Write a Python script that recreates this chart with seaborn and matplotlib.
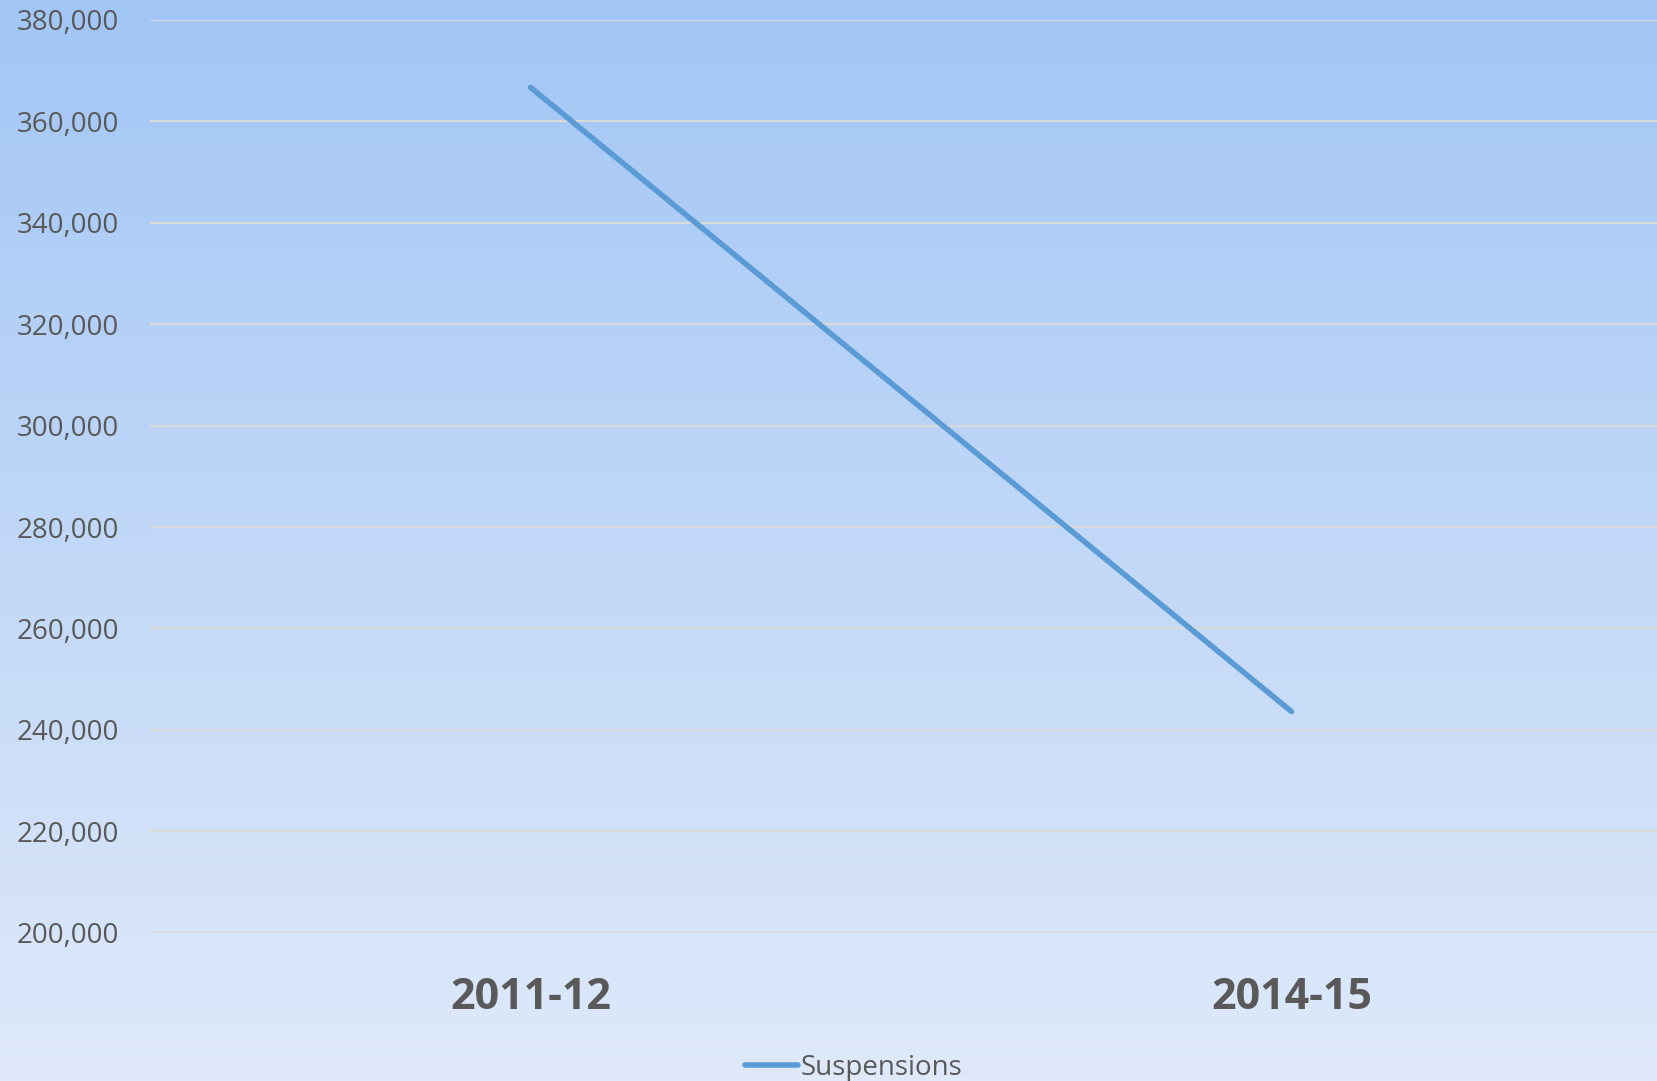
import numpy as np
import pandas as pd
import matplotlib.pyplot as plt
import seaborn as sns
from matplotlib.colors import LinearSegmentedColormap
from matplotlib.ticker import FuncFormatter

# Data
years = ["2011-12", "2014-15"]
suspensions = [366700, 243600]
series_name = "Suspensions"

df = pd.DataFrame({"Year": years, "Count": suspensions})

sns.set_style("white")
plt.rcParams["font.family"] = ["Open Sans", "DejaVu Sans"]

fig = plt.figure(figsize=(16.58, 10.81), dpi=100)

# gradient background over the whole figure
bg = fig.add_axes([0, 0, 1, 1], zorder=0)
cmap = LinearSegmentedColormap.from_list("bg", ["#a2c6f5", "#dfe9fa"])
bg.imshow(np.linspace(0, 1, 256).reshape(-1, 1), aspect="auto", cmap=cmap,
          extent=[0, 1, 0, 1], origin="upper")
bg.axis("off")

ax = fig.add_axes([0.0905, 0.1372, 0.918, 0.8443], zorder=1)
ax.patch.set_alpha(0)

sns.lineplot(data=df, x="Year", y="Count", ax=ax, color="#5b9bd5",
             linewidth=4.0, solid_capstyle="round", label=series_name)

ax.set_ylim(200000, 380000)
ax.set_yticks(range(200000, 380001, 20000))
ax.yaxis.set_major_formatter(FuncFormatter(lambda v, p: f"{int(v):,}"))
ax.set_xlim(-0.5, 1.5)
ax.grid(axis="y", color="#d9d9d9", linewidth=1.5)
ax.set_axisbelow(True)
for s in ax.spines.values():
    s.set_visible(False)

ax.tick_params(axis="y", length=0, pad=22, labelsize=20, labelcolor="#595959")
ax.tick_params(axis="x", length=0, pad=31, labelsize=31, labelcolor="#595959")
for lbl in ax.get_xticklabels():
    lbl.set_fontweight("bold")
ax.set_xlabel("")
ax.set_ylabel("")

ax.get_legend().remove()
h, l = ax.get_legend_handles_labels()
fig.legend(h, l, loc="lower center", bbox_to_anchor=(0.515, -0.024), frameon=False,
           fontsize=20, labelcolor="#595959", handlelength=1.9, handletextpad=0.1)

fig.savefig("out.png", dpi=100)
